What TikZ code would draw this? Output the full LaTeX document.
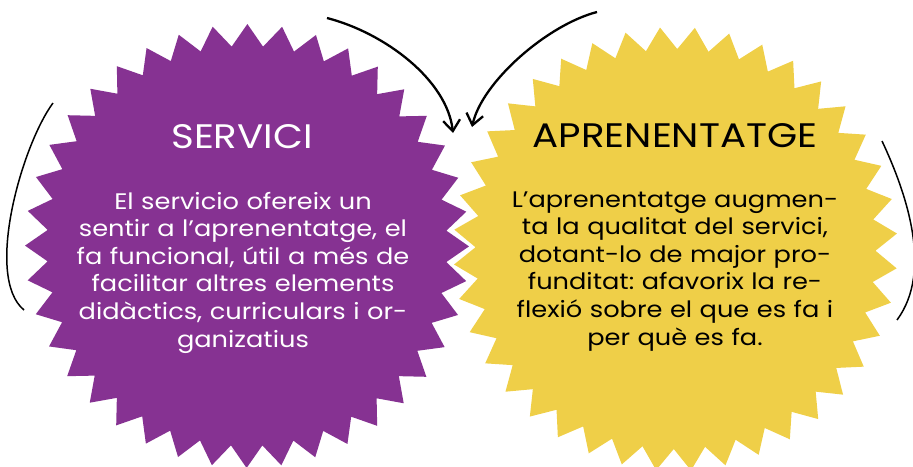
\documentclass[tikz,border=0pt]{standalone}
\usepackage{fontspec}
\setmainfont{Poppins}[FakeStretch=1.14]
\usepackage{tikz}
\usetikzlibrary{arrows.meta,positioning,calc}
\usepackage{xcolor}
\frenchspacing

\definecolor{svcpurple}{RGB}{134,50,146}
\definecolor{aprgold}{RGB}{239,207,72}

\begin{document}
\begin{tikzpicture}[
    x=1pt, y=-1pt,
    title/.style={font=\fontsize{34}{40}\selectfont, anchor=base},
    body/.style={font=\fontsize{22.5}{27.6}\selectfont, align=center, text width=420pt, anchor=base, inner sep=0pt},
    loop/.style={line width=2.3pt, -{Straight Barb[length=11pt, width=17pt, line width=2.3pt]}},
    side/.style={line width=1.5pt}
]
\useasboundingbox (0,0) rectangle (913,466);

% Centers of the two bursts
\coordinate (svc) at (247,246);
\coordinate (apr) at (675.5,249);

% Bursts (40 teeth each)
\fill[svcpurple, shift={(svc)}] (0.1:222)
    \foreach \k in {0,...,39} { -- (4.6+9*\k:200) -- (9.1+9*\k:222) } -- cycle;
\fill[aprgold, shift={(apr)}] (5:222)
    \foreach \k in {0,...,39} { -- (9.5+9*\k:200) -- (14+9*\k:222) } -- cycle;

% Titles
\node[title, text=white] (svctitle) at (242,148) {SERVICI};
\node[title, text=black] (aprtitle) at (675,147) {APRENENTATGE};

% Texts
\node[body, text=white] (svctext) at (243,209) {
    El servicio ofereix un\\
    sentir a l’aprenentatge, el\\
    fa funcional, útil a més de\\
    facilitar altres elements\\
    didàctics, curriculars i or-\\
    ganizatius
};
\node[body, text=black] (aprtext) at (675,207) {
    L’aprenentatge augmen-\\
    ta la qualitat del servici,\\
    dotant-lo de major pro-\\
    funditat: afavorix la re-\\
    flexió sobre el que es fa i\\
    per què es fa.
};

% Arrows between the bursts
\coordinate (svcfrom) at (327,18);
\coordinate (svcto) at (453,133);
\coordinate (aprfrom) at (597,12);
\coordinate (aprto) at (472,127);
\draw[loop] (svcfrom) .. controls (385,33) and (447,80) .. (svcto);
\draw[loop] (aprfrom) .. controls (547,25) and (482,82) .. (aprto);

% Side arcs
\coordinate (lefttop) at (53,103);
\coordinate (leftbot) at (24,310);
\coordinate (righttop) at (882,141);
\coordinate (rightbot) at (897,320);
\draw[side] (lefttop) .. controls (22,145) and (-16,277) .. (leftbot);
\draw[side] (righttop) .. controls (905,190) and (934,270) .. (rightbot);

\end{tikzpicture}
\end{document}
